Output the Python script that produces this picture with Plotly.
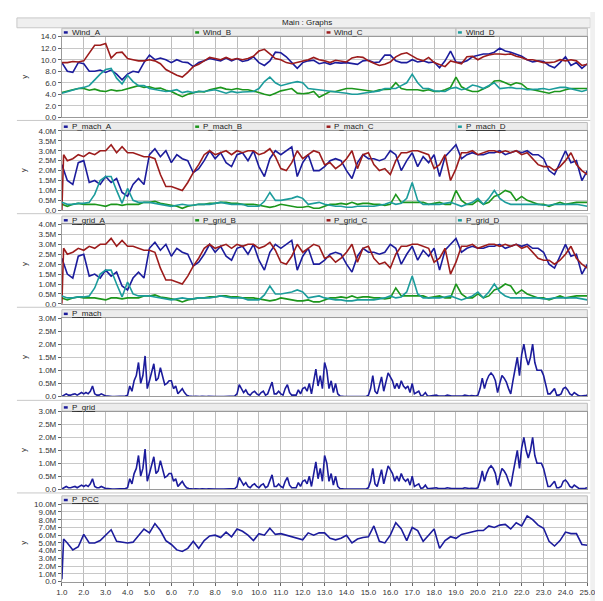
import numpy as np
import plotly.graph_objects as go

W, H = 603, 601

# ---------------- time bases ----------------
T_START, T_END = 1.0, 25.0
T_Q = list(np.linspace(T_START, T_END, 97))        # 0.25 s samples
T_D = list(np.linspace(T_START, T_END, 241))       # 0.1 s samples
T_STARTUP = [1.0, 1.08]                             # start-up transient samples

X_TICKS = [float(v) for v in range(1, 26)]
X_TICK_TEXT = [f"{v:.1f}" for v in X_TICKS]

# ---------------- Wind speeds (0.25 s samples) ----------------
WIND_A = [9.5, 8.0, 7.8, 9.5,  9.3, 8.0, 8.0, 8.2,  7.8, 8.2, 7.5, 6.5,  7.5, 8.0, 7.8, 9.5,
          10.8, 10.0, 10.3, 10.0,  9.5, 10.0, 9.6, 9.5,  8.8, 9.5, 9.8, 10.2,  10.0, 9.8, 10.3, 9.8,
          10.2, 9.7, 9.9, 10.5,  9.5, 9.0, 9.8, 11.3,  11.2, 10.5, 9.5, 8.5,  9.5, 9.8, 9.9, 9.3,
          9.5, 9.2, 9.5, 9.4,  9.5, 9.3, 9.2, 9.8,  9.9, 9.5, 9.6, 10.8,  10.8, 9.8, 9.5, 9.5,
          10.0, 9.6, 9.8, 9.5,  9.6, 8.6, 9.8, 11.5,  9.6, 9.5, 9.8, 10.5,  10.8, 11.0, 11.0, 11.3,
          12.0, 11.5, 11.3, 11.0,  10.6, 10.0, 9.6, 9.8,  9.7, 9.0, 8.6, 9.5,  10.5, 9.0, 9.5, 8.5,
          9.3]
WIND_B = [4.3, 4.6, 4.8, 5.0,  5.0, 4.7, 4.9, 4.6,  4.5, 4.8, 4.6, 4.7,  5.0, 5.2, 5.5, 5.2,
          5.3, 5.0, 5.1, 4.7,  4.5, 4.0, 3.6, 4.0,  4.3, 4.5, 4.4, 4.8,  5.0, 5.2, 4.9, 4.8,
          5.0, 4.8, 4.8, 4.6,  4.3, 4.0, 3.8, 4.2,  4.6, 4.8, 5.0, 4.2,  4.1, 4.2, 4.5, 3.5,
          4.0, 4.5, 4.5, 4.8,  5.0, 5.0, 4.9, 4.8,  4.6, 4.5, 4.8, 4.9,  4.9, 6.0, 5.0, 4.8,
          4.8, 4.8, 4.6, 4.8,  4.5, 4.5, 4.8, 5.2,  7.0, 5.3, 4.8, 4.5,  4.5, 5.0, 5.4, 6.3,
          6.4, 6.0, 5.6, 6.0,  5.8, 5.0, 4.8, 4.5,  4.3, 4.2, 4.5, 4.5,  4.8, 5.0, 5.0, 5.0,
          5.0]
WIND_C = [9.5, 9.5, 9.7, 9.6,  9.8, 11.2, 12.5, 12.5,  12.8, 10.3, 11.2, 11.3,  10.2, 10.0, 9.8, 9.8,
          10.0, 9.8, 9.3, 8.3,  7.8, 7.3, 7.0, 7.8,  8.8, 9.2, 9.8, 10.4,  10.2, 10.0, 10.4, 10.0,
          10.2, 10.0, 10.2, 10.6,  11.5, 11.8, 11.0, 10.2,  10.0, 9.5, 9.3, 9.5,  9.8, 10.0, 10.4, 10.0,
          9.8, 9.5, 9.9, 9.7,  9.6, 10.3, 10.5, 10.4,  9.8, 9.4, 9.0, 9.2,  9.6, 10.5, 11.0, 11.2,
          10.6, 10.1, 9.8, 10.4,  9.5, 9.2, 8.8, 9.8,  9.5, 9.3, 10.5, 10.6,  10.0, 10.5, 10.8, 11.0,
          11.0, 10.9, 11.0, 10.6,  10.4, 10.0, 10.0, 9.8,  9.5, 9.5, 9.6, 10.0,  9.8, 10.0, 9.8, 9.0,
          9.2]
WIND_D = [4.2, 4.5, 4.8, 5.0,  5.2, 5.5, 6.5, 7.5,  8.3, 8.5, 6.8, 5.8,  7.3, 6.2, 5.5, 5.5,
          5.0, 4.8, 4.6, 4.5,  4.6, 4.8, 4.3, 4.5,  4.3, 4.5, 4.5, 4.6,  4.8, 4.5, 4.2, 4.5,
          4.3, 4.4, 4.5, 4.5,  5.0, 6.2, 7.0, 6.0,  5.5, 5.8, 6.0, 6.2,  6.0, 5.0, 4.9, 4.8,
          4.6, 4.5, 4.5, 4.3,  4.2, 4.0, 4.0, 4.2,  4.3, 4.5, 4.6, 5.0,  5.0, 5.0, 5.5, 6.0,
          7.5, 6.0, 5.0, 5.0,  4.6, 4.5, 4.5, 5.0,  5.2, 4.8, 5.0, 5.6,  5.4, 5.0, 5.5, 6.0,
          5.0, 5.1, 5.2, 5.0,  5.0, 4.8, 4.8, 4.9,  5.0, 4.8, 5.0, 5.2,  5.2, 5.0, 4.8, 4.5,
          4.8]

# ---------------- Machine powers, MW (0.25 s samples) ----------------
P_MACH_A = [2.3, 1.5, 1.3, 2.4,  2.5, 1.4, 1.5, 1.3,  1.7, 1.4, 1.6, 0.9,  0.7, 1.3, 1.6, 1.3,
            2.8, 3.1, 2.7, 3.0,  2.4, 2.8, 2.6, 2.5,  1.9, 2.1, 2.5, 3.0,  2.6, 2.9, 2.4, 2.2,
            2.8, 2.9, 2.5, 3.0,  2.2, 1.7, 2.6, 3.0,  2.8, 3.0, 3.2, 1.7,  2.4, 2.8, 2.0, 2.0,
            2.2, 2.5, 2.6, 2.5,  2.0, 1.6, 2.4, 2.8,  2.6, 2.6, 2.5, 2.6,  3.0, 2.8, 2.0, 2.5,
            2.9, 2.2, 2.7, 2.4,  2.8, 1.7, 2.7, 3.0,  3.3, 2.6, 2.8, 2.9,  2.8, 2.8, 2.9, 2.9,
            3.0, 2.8, 2.9, 3.0,  2.9, 3.0, 2.8, 2.8,  2.6, 2.0, 1.8, 2.4,  3.0, 2.4, 2.5, 1.5,
            2.0]
P_MACH_B = [0.3, 0.2, 0.3, 0.35,  0.3, 0.3, 0.3, 0.25,  0.2, 0.3, 0.3, 0.25,  0.3, 0.3, 0.3, 0.4,
            0.4, 0.45, 0.35, 0.3,  0.25, 0.2, 0.1, 0.2,  0.25, 0.3, 0.3, 0.35,  0.35, 0.4, 0.4, 0.35,
            0.35, 0.3, 0.3, 0.3,  0.25, 0.2, 0.15, 0.2,  0.3, 0.25, 0.2, 0.15,  0.15, 0.2, 0.1, 0.1,
            0.2, 0.3, 0.3, 0.35,  0.3, 0.4, 0.3, 0.35,  0.35, 0.3, 0.3, 0.25,  0.3, 0.8, 0.4, 0.4,
            0.4, 0.4, 0.4, 0.3,  0.35, 0.4, 0.3, 0.3,  1.0, 0.5, 0.3, 0.3,  0.5, 0.3, 0.4, 0.7,
            0.8, 1.0, 0.9, 0.5,  0.7, 0.5, 0.4, 0.3,  0.3, 0.2, 0.3, 0.4,  0.3, 0.35, 0.4, 0.4,
            0.4]
# P_mach_C starts with a start-up transient: first two samples on T_STARTUP
P_MACH_C = [0.0, 2.8, 2.5, 2.6, 2.8,  2.7, 2.9, 2.8, 3.0,  3.0, 3.3, 2.9, 3.2,  2.9, 2.9, 2.8, 2.7,
            2.7, 2.6, 1.8, 1.2,  1.2, 1.1, 1.0, 1.4,  1.9, 2.3, 2.8, 3.0,  2.8, 2.9, 3.0, 2.8,
            3.0, 2.9, 3.0, 3.0,  2.8, 2.9, 3.1, 2.7,  2.1, 2.0, 2.4, 3.0,  2.6, 2.8, 3.0, 2.9,
            2.3, 2.4, 2.1, 2.3,  2.6, 3.0, 2.1, 2.8,  2.9, 2.3, 2.0, 2.1,  1.8, 2.5, 2.9, 2.9,
            3.0, 3.0, 2.9, 2.8,  2.1, 2.3, 2.8, 1.5,  2.1, 2.9, 2.9, 3.0,  2.8, 2.9, 3.0, 3.0,
            2.9, 3.0, 2.9, 3.0,  2.8, 2.9, 2.6, 2.3,  2.2, 2.2, 2.0, 2.2,  2.5, 2.9, 2.3, 2.0,
            1.8]
P_MACH_D = [0.4, 0.3, 0.3, 0.35,  0.35, 0.4, 0.8, 1.5,  1.7, 1.7, 1.0, 0.35,  1.1, 0.5, 0.4, 0.4,
            0.4, 0.35, 0.3, 0.25,  0.2, 0.25, 0.3, 0.25,  0.25, 0.3, 0.3, 0.3,  0.35, 0.4, 0.35, 0.3,
            0.3, 0.3, 0.2, 0.2,  0.2, 0.45, 0.9, 0.5,  0.5, 0.55, 0.6, 0.7,  0.6, 0.3, 0.35, 0.4,
            0.3, 0.25, 0.2, 0.2,  0.15, 0.15, 0.2, 0.2,  0.2, 0.2, 0.25, 0.3,  0.4, 0.3, 0.35, 0.6,
            1.4, 0.5, 0.3, 0.3,  0.3, 0.3, 0.35, 0.4,  0.3, 0.2, 0.3, 0.4,  0.6, 0.3, 0.6, 1.0,
            0.6, 0.4, 0.3, 0.3,  0.3, 0.3, 0.3, 0.3,  0.25, 0.25, 0.3, 0.3,  0.3, 0.3, 0.3, 0.25,
            0.2]

# Grid-side powers read identical to the machine powers in the picture
P_GRID_A = list(P_MACH_A)
P_GRID_B = list(P_MACH_B)
P_GRID_C = list(P_MACH_C)
P_GRID_D = list(P_MACH_D)

# ---------------- Total machine / grid power, MW (0.1 s samples) ----------------
P_MACH_TOT = [
    0.0, 0.05, 0.1, 0.05, 0.05, 0.08, 0.1, 0.05, 0.1, 0.15,
    0.1, 0.15, 0.1, 0.2, 0.4, 0.1, 0.05, 0.05, 0.1, 0.05,
    0.02, 0.02, 0.0, 0.0, 0.0, 0.0, 0.0, 0.0, 0.0, 0.02,
    0.05, 0.4, 0.2, 0.6, 0.8, 1.3, 0.5, 0.8, 1.55, 0.3,
    0.6, 0.9, 1.25, 0.6, 0.7, 1.1, 0.8, 0.45, 0.5, 0.6,
    0.6, 0.3, 0.4, 0.1, 0.2, 0.3, 0.15, 0.05, 0.02, 0.0,
    0.0, 0.01, 0.0, 0.0, 0.01, 0.0, 0.0, 0.01, 0.0, 0.0,
    0.0, 0.0, 0.01, 0.0, 0.0, 0.0, 0.01, 0.0, 0.0, 0.02,
    0.1, 0.45, 0.3, 0.15, 0.25, 0.1, 0.05, 0.15, 0.2, 0.1,
    0.05, 0.15, 0.2, 0.05, 0.1, 0.3, 0.55, 0.1, 0.1, 0.2,
    0.1, 0.05, 0.3, 0.45, 0.15, 0.05, 0.05, 0.05, 0.25, 0.1,
    0.3, 0.35, 0.2, 0.5, 0.1, 0.6, 1.05, 0.4, 0.8, 0.3,
    1.3, 1.0, 0.3, 0.6, 0.15, 0.5, 0.1, 0.02, 0.0, 0.0,
    0.0, 0.0, 0.0, 0.01, 0.0, 0.0, 0.0, 0.0, 0.01, 0.0,
    0.05, 0.3, 0.8, 0.2, 0.1, 0.4, 0.75, 0.2, 0.5, 0.9,
    0.75, 0.6, 0.3, 0.5, 0.3, 0.6, 0.4, 0.3, 0.4, 0.15,
    0.5, 0.1, 0.15, 0.2, 0.02, 0.05, 0.15, 0.02, 0.02, 0.03,
    0.02, 0.05, 0.02, 0.02, 0.03, 0.02, 0.05, 0.02, 0.02, 0.02,
    0.02, 0.03, 0.02, 0.02, 0.05, 0.02, 0.02, 0.03, 0.02, 0.02,
    0.05, 0.3, 0.7, 0.3, 0.6, 0.8, 0.9, 0.8, 0.6, 0.15,
    0.5, 0.8, 0.7, 0.55, 0.3, 0.1, 0.6, 1.0, 1.5, 0.8,
    1.6, 2.0, 1.5, 1.2, 1.5, 2.0, 1.3, 1.0, 1.0, 1.0,
    0.8, 0.4, 0.1, 0.1, 0.2, 0.3, 0.05, 0.05, 0.1, 0.3,
    0.35, 0.25, 0.1, 0.05, 0.15, 0.1, 0.03, 0.02, 0.02, 0.03,
    0.05]
P_GRID_TOT = list(P_MACH_TOT)

# ---------------- Power at PCC, MW (start-up samples then 0.25 s samples) ----------------
P_PCC = [0.3, 5.5, 5.0, 4.1, 4.5,  6.1, 5.0, 5.0, 5.3,  6.0, 6.7, 5.2, 5.1,  5.0, 5.1, 6.0, 6.8,
         6.3, 7.5, 6.6, 5.3,  4.8, 4.1, 3.9, 4.3,  5.2, 4.3, 5.3, 5.9,  6.0, 5.7, 6.4, 5.8,
         6.8, 6.5, 6.0, 5.3,  6.2, 6.0, 6.9, 6.1,  6.2, 6.0, 5.7, 5.6,  5.4, 6.3, 6.0, 6.3,
         6.3, 5.6, 5.4, 5.6,  6.0, 5.0, 5.5, 5.7,  5.8, 7.2, 5.2, 5.0,  6.0, 7.6, 6.8, 5.3,
         7.0, 6.6, 5.2, 6.0,  6.8, 4.3, 5.3, 5.8,  5.6, 6.1, 6.3, 6.4,  6.6, 6.6, 7.2, 7.0,
         7.3, 7.4, 6.8, 7.6,  7.2, 8.5, 8.0, 7.3,  6.9, 5.2, 4.6, 5.3,  6.4, 6.2, 6.2, 4.8,
         4.7]

# ---------------- axis tick labels ----------------
WIND_TICKS = [0, 2, 4, 6, 8, 10, 12, 14]
WIND_TICK_TEXT = ["0.0", "2.0", "4.0", "6.0", "8.0", "10.0", "12.0", "14.0"]
P4_TICKS = [0, 0.5, 1.0, 1.5, 2.0, 2.5, 3.0, 3.5, 4.0]
P4_TICK_TEXT = ["0.0", "0.5M", "1.0M", "1.5M", "2.0M", "2.5M", "3.0M", "3.5M", "4.0M"]
P3_TICKS = [0, 0.5, 1.0, 1.5, 2.0, 2.5, 3.0]
P3_TICK_TEXT = ["0.0", "0.5M", "1.0M", "1.5M", "2.0M", "2.5M", "3.0M"]
P10_TICKS = list(range(0, 11))
P10_TICK_TEXT = ["0.0"] + [f"{v}.0M" for v in range(1, 11)]

# ---------------- colours ----------------
C_BLUE = "#1c1c9c"
C_GREEN = "#1c961c"
C_RED = "#9c1c1c"
C_TEAL = "#1c9c9c"

T_START_SERIES = T_STARTUP + T_Q[1:]

panels = [
    dict(top=25.0, bot=107.0, ymax=14, ticks=WIND_TICKS, text=WIND_TICK_TEXT,
         series=[("Wind_A", T_Q, WIND_A, C_BLUE, False), ("Wind_B", T_Q, WIND_B, C_GREEN, False),
                 ("Wind_C", T_Q, WIND_C, C_RED, False), ("Wind_D", T_Q, WIND_D, C_TEAL, True)]),
    dict(top=120.7, bot=201.3, ymax=4, ticks=P4_TICKS, text=P4_TICK_TEXT,
         series=[("P_mach_A", T_Q, P_MACH_A, C_BLUE, False), ("P_mach_B", T_Q, P_MACH_B, C_GREEN, False),
                 ("P_mach_C", T_START_SERIES, P_MACH_C, C_RED, False), ("P_mach_D", T_Q, P_MACH_D, C_TEAL, True)]),
    dict(top=215.7, bot=296.3, ymax=4, ticks=P4_TICKS, text=P4_TICK_TEXT,
         series=[("P_grid_A", T_Q, P_GRID_A, C_BLUE, True), ("P_grid_B", T_Q, P_GRID_B, C_GREEN, False),
                 ("P_grid_C", T_START_SERIES, P_GRID_C, C_RED, False), ("P_grid_D", T_Q, P_GRID_D, C_TEAL, False)]),
    dict(top=310.7, bot=390.3, ymax=3, ticks=P3_TICKS, text=P3_TICK_TEXT,
         series=[("P_mach", T_D, P_MACH_TOT, C_BLUE, True)]),
    dict(top=405.7, bot=484.3, ymax=3, ticks=P3_TICKS, text=P3_TICK_TEXT,
         series=[("P_grid", T_D, P_GRID_TOT, C_BLUE, True)]),
    dict(top=499.7, bot=578.3, ymax=10, ticks=P10_TICKS, text=P10_TICK_TEXT,
         series=[("P_PCC", T_START_SERIES, P_PCC, C_BLUE, True)]),
]

X0, X1 = 49.0, 587.0


def px(x):
    return x / W


def py(y):
    return 1 - y / H


fig = go.Figure()
shapes = []
annotations = []
FONT = "Liberation Sans, Arial, sans-serif"

# Title bar
shapes.append(dict(type="rect", xref="paper", yref="paper", x0=px(3), x1=px(590), y0=py(16), y1=py(6),
                   fillcolor="#efefef", line=dict(color="#c8c8c8", width=1), layer="below"))
annotations.append(dict(xref="paper", yref="paper", x=px(300), y=py(11), text="Main : Graphs",
                        showarrow=False, font=dict(family=FONT, size=8, color="#222"),
                        xanchor="center", yanchor="middle"))
# Right grey strip
shapes.append(dict(type="rect", xref="paper", yref="paper", x0=px(590), x1=px(603), y0=0, y1=1,
                   fillcolor="#f0f0f0", line=dict(width=0), layer="below"))

for i, p in enumerate(panels, start=1):
    xa = "xaxis" if i == 1 else f"xaxis{i}"
    ya = "yaxis" if i == 1 else f"yaxis{i}"
    last = i == len(panels)
    fig.update_layout({
        xa: dict(domain=[px(X0), px(X1)], anchor=f"y{i}" if i > 1 else "y", range=[T_START, T_END],
                 tickvals=X_TICKS, ticktext=X_TICK_TEXT, showticklabels=last,
                 ticks="outside" if last else "", ticklen=3, tickcolor="#666",
                 showgrid=True, gridcolor="#bdbdbd", gridwidth=1, zeroline=False,
                 showline=True, mirror=True, linecolor="#9a9a9a", linewidth=1,
                 tickfont=dict(family=FONT, size=8, color="#333")),
        ya: dict(domain=[py(p["bot"]), py(p["top"])], anchor=f"x{i}" if i > 1 else "x",
                 range=[0, p["ymax"]], tickvals=p["ticks"], ticktext=p["text"],
                 ticks="outside", ticklen=3, tickcolor="#666",
                 showgrid=True, gridcolor="#c8c8c8", gridwidth=1, zeroline=False,
                 showline=True, mirror=True, linecolor="#9a9a9a", linewidth=1,
                 tickfont=dict(family=FONT, size=8, color="#333")),
    })
    for name, t, v, col, _ in p["series"]:
        fig.add_trace(go.Scatter(x=t, y=v, mode="lines", name=name,
                                 line=dict(color=col, width=1.6),
                                 xaxis=f"x{i}" if i > 1 else "x", yaxis=f"y{i}" if i > 1 else "y",
                                 showlegend=False, hoverinfo="skip"))
    # legend bar
    lt, lb = p["top"] - 8.5, p["top"] - 0.5
    n = len(p["series"])
    cw = (X1 - X0) / n
    for k, (name, _, _, col, ul) in enumerate(p["series"]):
        cx0 = X0 + k * cw
        shapes.append(dict(type="rect", xref="paper", yref="paper", x0=px(cx0), x1=px(cx0 + cw),
                           y0=py(lb), y1=py(lt), fillcolor="#ececec",
                           line=dict(color="#bcbcbc", width=1), layer="below"))
        shapes.append(dict(type="rect", xref="paper", yref="paper", x0=px(cx0 + 2), x1=px(cx0 + 6),
                           y0=py(lt + 5.5), y1=py(lt + 3), fillcolor=col, line=dict(width=0)))
        txt = f"<u>{name}</u>" if ul else name
        annotations.append(dict(xref="paper", yref="paper", x=px(cx0 + 8), y=py((lt + lb) / 2),
                                text=txt, showarrow=False, xanchor="left", yanchor="middle",
                                font=dict(family=FONT, size=8, color="#222")))
    # y label
    annotations.append(dict(xref="paper", yref="paper", x=px(10), y=py((p["top"] + p["bot"]) / 2),
                            text="y", showarrow=False, textangle=-90, xanchor="center", yanchor="middle",
                            font=dict(family=FONT, size=8, color="#333")))
    # separator below panel
    if not last:
        sep = (p["bot"] + panels[i]["top"] - 8.5) / 2 + 0.5
        shapes.append(dict(type="line", xref="paper", yref="paper", x0=px(3), x1=px(590),
                           y0=py(sep), y1=py(sep), line=dict(color="#c8c8c8", width=1)))

fig.update_layout(width=W, height=H, margin=dict(l=0, r=0, t=0, b=0),
                  paper_bgcolor="#ffffff", plot_bgcolor="#ffffff",
                  shapes=shapes, annotations=annotations, showlegend=False)

fig.write_html("out.html")
